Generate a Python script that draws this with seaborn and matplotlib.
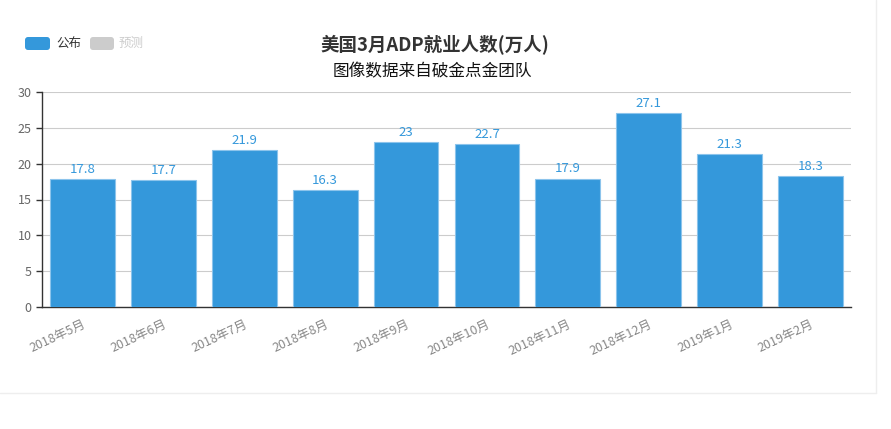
import matplotlib
matplotlib.use("Agg")
import matplotlib.pyplot as plt
import seaborn as sns
import pandas as pd
from matplotlib.patches import FancyBboxPatch
from matplotlib.lines import Line2D

months = ["2018年5月", "2018年6月", "2018年7月", "2018年8月", "2018年9月",
          "2018年10月", "2018年11月", "2018年12月", "2019年1月", "2019年2月"]
published = [17.8, 17.7, 21.9, 16.3, 23, 22.7, 17.9, 27.1, 21.3, 18.3]
yticks = [0, 5, 10, 15, 20, 25, 30]

df = pd.DataFrame({"month": months, "value": published})

sns.set_style("white")
plt.rcParams['font.family'] = ['Noto Sans CJK SC', 'DejaVu Sans']

blue = "#3498db"
fig = plt.figure(figsize=(8.91, 4.29), dpi=100)
ax = fig.add_axes([42/891, 1-307/429, (851-42)/891, (307-92)/429])

sns.barplot(data=df, x="month", y="value", color=blue, saturation=1,
            width=0.8, edgecolor="#8cc4ec", linewidth=0.8, ax=ax, zorder=3)

for i, v in enumerate(published):
    ax.text(i, v + 0.45, f"{v:g}", ha="center", va="bottom", color=blue, fontsize=9.5)

ax.set_xlim(-0.5, len(months) - 0.5)
ax.set_ylim(0, 30)
ax.set_yticks(yticks)
ax.yaxis.grid(True, color="#cccccc", linewidth=0.8, zorder=0)
ax.set_axisbelow(True)
ax.set_xlabel("")
ax.set_ylabel("")

ax.set_xticks(range(len(months)))
ax.set_xticklabels(months, rotation=25, ha="right", rotation_mode="anchor",
                   color="#888888", fontsize=9)
ax.set_xticks([i - 0.5 for i in range(len(months) + 1)], minor=True)
ax.tick_params(axis="x", which="major", length=0, pad=8)
ax.tick_params(axis="x", which="minor", length=4, color="#333333", width=1, direction="out")
ax.tick_params(axis="y", length=4, color="#333333", width=1, labelcolor="#666666",
               labelsize=9, direction="out", left=True)

for s in ["top", "right"]:
    ax.spines[s].set_visible(False)
for s in ["left", "bottom"]:
    ax.spines[s].set_color("#333333")
    ax.spines[s].set_linewidth(1)

fig.text(435/891, 1-45/429, "美国3月ADP就业人数(万人)", ha="center", va="center",
         fontsize=13.3, fontweight="bold", color="#333333")
fig.text(432/891, 1-72/429, "图像数据来自破金点金团队", ha="center", va="center",
         fontsize=12, color="#111111")

# legend (inch coords)
inch = fig.dpi_scale_trans
fig.patches.append(FancyBboxPatch((0.25, 4.29 - 0.50), 0.25, 0.13,
                                  boxstyle="round,pad=0,rounding_size=0.03",
                                  transform=inch, facecolor=blue, edgecolor="none"))
fig.text(56/891, 1-43.5/429, "公布", ha="left", va="center", fontsize=9, color="#333333")
fig.patches.append(FancyBboxPatch((0.90, 4.29 - 0.50), 0.24, 0.13,
                                  boxstyle="round,pad=0,rounding_size=0.03",
                                  transform=inch, facecolor="#cccccc", edgecolor="none"))
fig.text(119/891, 1-43.5/429, "预测", ha="left", va="center", fontsize=9, color="#cccccc")

# outer frame
fig.add_artist(Line2D([875.5/891, 875.5/891], [1, 1-393/429], transform=fig.transFigure,
                      color="#eeeeee", linewidth=1))
fig.add_artist(Line2D([0, 875.5/891], [1-393/429, 1-393/429], transform=fig.transFigure,
                      color="#eeeeee", linewidth=1))

fig.savefig("out.png", dpi=100)
